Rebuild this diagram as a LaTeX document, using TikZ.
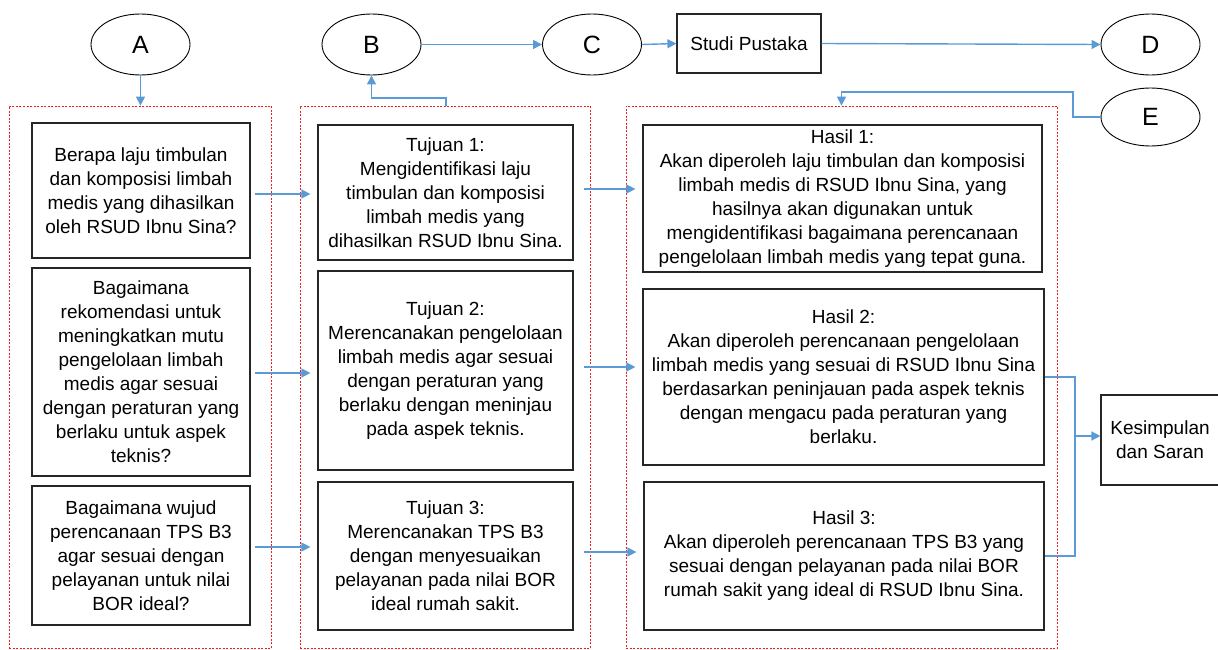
\documentclass[tikz,border=0pt]{standalone}
\usepackage{fontspec}
\setmainfont{Liberation Sans}
\usetikzlibrary{arrows.meta,shapes.geometric}
\definecolor{arrblue}{RGB}{91,155,213}
\definecolor{framered}{RGB}{240,30,30}
\tikzset{
  txt/.style={font=\fontsize{19}{24}\selectfont, align=center, inner sep=0pt},
  box/.style={txt, draw=black!85, line width=1.2pt, minimum width=#1},
  oval/.style={ellipse, draw=black, line width=0.9pt, minimum width=99pt, minimum height=61pt, inner sep=0pt, font=\fontsize{25}{28}\selectfont},
  frame/.style={draw=framered, line width=0.8pt, dash pattern=on 2pt off 1.5pt, inner sep=0pt},
  arr/.style={draw=arrblue, line width=1.4pt, -{Triangle[length=9pt,width=9pt]}},
  lin/.style={draw=arrblue, line width=1.4pt},
}
\begin{document}
\begin{tikzpicture}[x=1pt,y=-1pt]
\useasboundingbox (0,0) rectangle (1218,650);
% top row
\node[oval] (A) at (140.5,44.5) {A};
\node[oval] (B) at (371.5,44.5) {B};
\node[oval] (C) at (592,44.5) {C};
\node[box=144pt, minimum height=59pt] (SP) at (749,43.5) {Studi Pustaka};
\node[oval] (D) at (1150.5,44.5) {D};
\node[oval, minimum height=58pt] (E) at (1150.5,117) {E};
% frames
\node[frame, minimum width=262pt, minimum height=542pt] (F1) at (140,377) {};
\node[frame, minimum width=290pt, minimum height=542pt] (F2) at (445,377) {};
\node[frame, minimum width=431pt, minimum height=542pt] (F3) at (841.5,377) {};
% left column
\node[box=218pt, minimum height=135pt] (L1) at (141,190.5) {Berapa laju timbulan\\dan komposisi limbah\\medis yang dihasilkan\\oleh RSUD Ibnu Sina?};
\node[box=218pt, minimum height=208pt] (L2) at (141,372) {Bagaimana\\rekomendasi untuk\\meningkatkan mutu\\pengelolaan limbah\\medis agar sesuai\\dengan peraturan yang\\berlaku untuk aspek\\teknis?};
\node[box=218pt, minimum height=139pt] (L3) at (141,555.5) {Bagaimana wujud\\perencanaan TPS B3\\agar sesuai dengan\\pelayanan untuk nilai\\BOR ideal?};
% middle column
\node[box=255pt, minimum height=135pt] (M1) at (445.5,192.5) {Tujuan 1:\\Mengidentifikasi laju\\timbulan dan komposisi\\limbah medis yang\\dihasilkan RSUD Ibnu Sina.};
\node[box=255pt, minimum height=199pt] (M2) at (445.5,370.5) {Tujuan 2:\\Merencanakan pengelolaan\\limbah medis agar sesuai\\dengan peraturan yang\\berlaku dengan meninjau\\pada aspek teknis.};
\node[box=255pt, minimum height=148pt] (M3) at (445.5,556) {Tujuan 3:\\Merencanakan TPS B3\\dengan menyesuaikan\\pelayanan pada nilai BOR\\ideal rumah sakit.};
% right column
\node[box=399pt, minimum height=147pt] (R1) at (842.5,198.5) {Hasil 1:\\Akan diperoleh laju timbulan dan komposisi\\limbah medis di RSUD Ibnu Sina, yang\\hasilnya akan digunakan untuk\\mengidentifikasi bagaimana perencanaan\\pengelolaan limbah medis yang tepat guna.};
\node[box=401pt, minimum height=176pt] (R2) at (843.5,377) {Hasil 2:\\Akan diperoleh perencanaan pengelolaan\\limbah medis yang sesuai di RSUD Ibnu Sina\\berdasarkan peninjauan pada aspek teknis\\dengan mengacu pada peraturan yang\\berlaku.};
\node[box=400pt, minimum height=148pt] (R3) at (844,556) {Hasil 3:\\Akan diperoleh perencanaan TPS B3 yang\\sesuai dengan pelayanan pada nilai BOR\\rumah sakit yang ideal di RSUD Ibnu Sina.};
\node[box=118pt, minimum height=90pt] (K) at (1160,440) {Kesimpulan\\dan Saran};
% helper coordinates
\coordinate (eb1) at (1073,117);
\coordinate (eb2) at (1073,92);
\coordinate (fb) at (446,98);
\coordinate (hx) at (1075,436);
% top connectors
\draw[arr] (A.south) -- (A.south |- F1.north);
\draw[arr] (F2.north -| fb) -- (fb) -| (B.south);
\draw[arr] (B.east) -- (C.west);
\draw[arr] (C.east) -- (SP.west);
\draw[arr] (SP.east) -- (D.west);
\draw[arr] (E.west) -- (eb1) -- (eb2) -| (F3.north);
% row connectors
\draw[arr, shorten <=4pt, shorten >=7pt] ([yshift=-3.5pt]L1.east) -- ([yshift=-3.5pt]L1.east -| M1.west);
\draw[arr, shorten <=4pt, shorten >=7pt] ([yshift=-1pt]L2.east) -- ([yshift=-1pt]L2.east -| M2.west);
\draw[arr, shorten <=4pt, shorten >=7pt] ([yshift=8.5pt]L3.east) -- ([yshift=8.5pt]L3.east -| M3.west);
\draw[arr, shorten <=10pt, shorten >=7pt] ([yshift=3.5pt]M1.east) -- ([yshift=3.5pt]M1.east -| R1.west);
\draw[arr, shorten <=10pt, shorten >=7pt] ([yshift=3.5pt]M2.east) -- ([yshift=3.5pt]M2.east -| R2.west);
\draw[arr, shorten <=10pt, shorten >=7pt] ([yshift=4pt]M3.east) -- ([yshift=4pt]M3.east -| R3.west);
% results to conclusion
\draw[lin] (R2.east) -| (hx) |- (R3.east);
\draw[arr] (hx) -- (K.west |- hx);
\end{tikzpicture}
\end{document}
